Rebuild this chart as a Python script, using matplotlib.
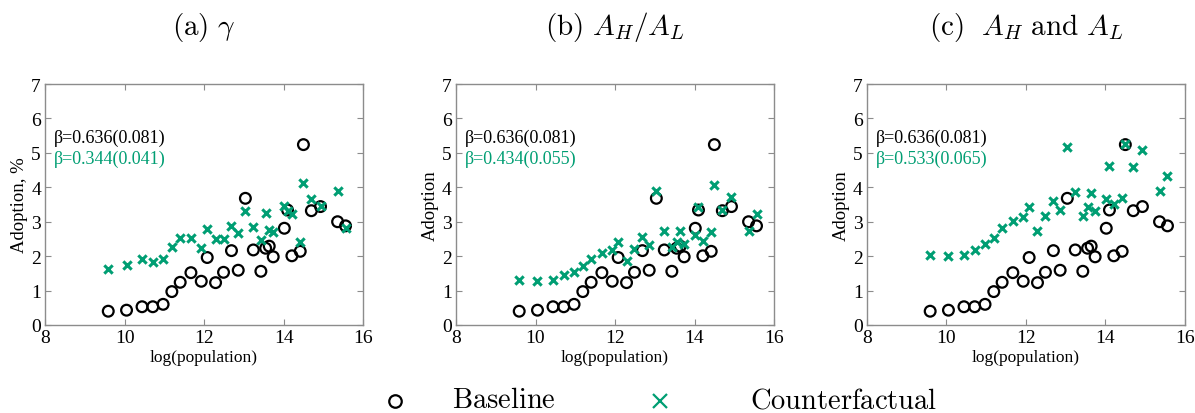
import matplotlib
matplotlib.use("Agg")
import matplotlib.pyplot as plt
from matplotlib.lines import Line2D

plt.rcParams['mathtext.fontset'] = 'cm'
plt.rcParams['font.family'] = ['Liberation Serif', 'DejaVu Serif']

GREEN = '#009E73'
SPINE = '#8c8c8c'

# log(population) per region, shared by all panels
log_pop = [9.59, 10.05, 10.44, 10.71, 10.97, 11.19, 11.40, 11.67, 11.93, 12.08,
           12.29, 12.49, 12.69, 12.86, 13.04, 13.24, 13.43, 13.55, 13.64, 13.74,
           14.02, 14.10, 14.21, 14.42, 14.50, 14.70, 14.93, 15.36, 15.56]

baseline = [0.40, 0.43, 0.53, 0.53, 0.60, 0.97, 1.24, 1.52, 1.27, 1.96,
            1.23, 1.53, 2.16, 1.59, 3.68, 2.18, 1.56, 2.23, 2.29, 1.98,
            2.81, 3.34, 2.01, 2.14, 5.24, 3.32, 3.44, 3.00, 2.88]

cf_gamma = [1.62, 1.73, 1.92, 1.83, 1.93, 2.28, 2.52, 2.53, 2.24, 2.80,
            2.51, 2.50, 2.87, 2.66, 3.31, 2.84, 2.48, 3.26, 2.77, 2.69,
            3.45, 3.32, 3.23, 2.41, 4.12, 3.67, 3.45, 3.88, 2.83]

cf_ratio = [1.32, 1.29, 1.32, 1.44, 1.54, 1.70, 1.91, 2.09, 2.18, 2.41,
            1.86, 2.21, 2.56, 2.31, 3.88, 2.73, 2.26, 2.41, 2.73, 2.36,
            2.61, 3.42, 2.43, 2.71, 4.07, 3.34, 3.71, 2.73, 3.22]

cf_levels = [2.04, 2.01, 2.03, 2.19, 2.36, 2.54, 2.82, 3.03, 3.15, 3.43,
             2.74, 3.17, 3.59, 3.34, 5.18, 3.85, 3.18, 3.44, 3.82, 3.31,
             3.65, 4.61, 3.52, 3.70, 5.27, 4.58, 5.07, 3.90, 4.34]

titles = [r'$\mathrm{(a)}\ \gamma$', r'$\mathrm{(b)}\ A_H/A_L$',
          r'$\mathrm{(c)}\ \ A_H\ \mathrm{and}\ A_L$']
ylabels = ['Adoption, %', 'Adoption', 'Adoption']
beta_base = 'β=0.636(0.081)'
beta_cf = ['β=0.344(0.041)', 'β=0.434(0.055)', 'β=0.533(0.065)']
counterfactuals = [cf_gamma, cf_ratio, cf_levels]

fig = plt.figure(figsize=(11.95, 4.14), dpi=100)
lefts = [0.0377, 0.3816, 0.7255]

for i in range(3):
    ax = fig.add_axes([lefts[i], 0.2126, 0.2661, 0.582])
    ax.scatter(log_pop, baseline, s=60, marker='o', facecolors='none',
               edgecolors='black', linewidths=1.6, zorder=3)
    ax.scatter(log_pop, counterfactuals[i], s=36, marker='x', color=GREEN,
               linewidths=2.2, zorder=4)
    ax.set_xlim(8, 16)
    ax.set_ylim(0, 7)
    ax.set_xticks([8, 10, 12, 14, 16])
    ax.set_yticks(range(8))
    ax.tick_params(direction='in', length=4, width=0.8, color=SPINE,
                   labelsize=14, top=True, right=True, pad=3)
    for sp in ax.spines.values():
        sp.set_color(SPINE)
        sp.set_linewidth(1.0)
    ax.set_xlabel('log(population)', fontsize=12.5, labelpad=2)
    ax.set_ylabel(ylabels[i], fontsize=13.5, labelpad=2)
    ax.text(8.22, 5.45, beta_base, fontsize=13, color='black', va='center')
    ax.text(8.22, 4.85, beta_cf[i], fontsize=13, color=GREEN, va='center')
    ax.set_title(titles[i], fontsize=21, pad=36)

# shared legend along the bottom edge
fig.add_artist(Line2D([0.3305], [0.03], transform=fig.transFigure, ls='none',
                      marker='o', mfc='none', mec='black', mew=1.6, ms=9))
fig.text(0.3782, 0.03, r'$\mathrm{Baseline}$', fontsize=20.5, va='center')
fig.add_artist(Line2D([0.5523], [0.03], transform=fig.transFigure, ls='none',
                      marker='x', color=GREEN, mew=1.6, ms=10))
fig.text(0.6276, 0.03, r'$\mathrm{Counterfactual}$', fontsize=20.5, va='center')

fig.savefig('out.png', dpi=100)
